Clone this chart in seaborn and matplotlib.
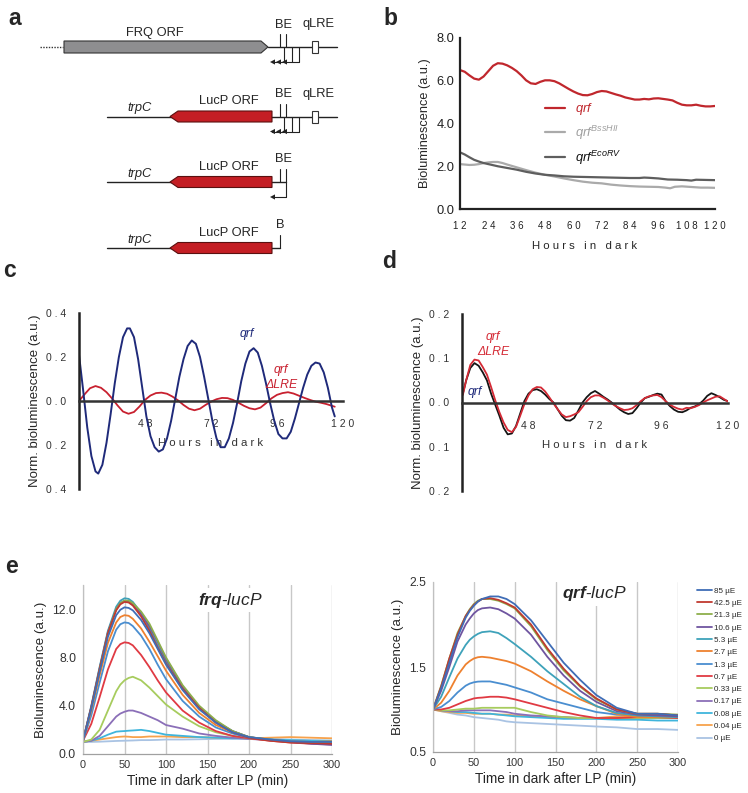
import numpy as np
import pandas as pd
import seaborn as sns
import matplotlib
matplotlib.use("Agg")
import matplotlib.pyplot as plt
from matplotlib.patches import Polygon, Rectangle
from matplotlib.lines import Line2D

# ======================= DATA =======================
# ---- panel a (schematic constructs) ----
orf_labels = ["FRQ ORF", "LucP ORF", "LucP ORF", "LucP ORF"]
promoter_labels = [None, "trpC", "trpC", "trpC"]
site_labels = ["BE", "BE", "BE", "B"]
has_qlre = [True, True, False, False]
n_tss_arrows = [3, 3, 1, 0]

# ---- panel b ----
b_hours_qrf = [12, 14, 16, 18, 20, 22, 24, 26, 28, 30, 32, 34, 36, 38, 40, 42, 44, 46, 48, 50,
               52, 54, 56, 58, 60, 62, 64, 66, 68, 70, 72, 74, 76, 78, 80, 82, 84, 86, 88, 90,
               92, 94, 96, 98, 100, 102, 104, 106, 108, 110, 112, 114, 116, 118, 120]
b_qrf = [6.5, 6.42, 6.25, 6.1, 6.05, 6.2, 6.45, 6.7, 6.82, 6.8, 6.72, 6.6, 6.45, 6.25, 6.02, 5.88,
         5.85, 5.95, 6.02, 6.02, 5.98, 5.88, 5.75, 5.62, 5.5, 5.4, 5.33, 5.32, 5.38, 5.47, 5.52,
         5.5, 5.43, 5.36, 5.3, 5.22, 5.17, 5.12, 5.12, 5.15, 5.13, 5.17, 5.18, 5.15, 5.12, 5.08,
         4.97, 4.88, 4.85, 4.85, 4.88, 4.83, 4.8, 4.8, 4.82]
b_hours_bss = [12, 14, 16, 18, 20, 22, 24, 26, 28, 30, 32, 36, 40, 44, 48, 52, 56, 60, 64, 68,
               72, 76, 80, 84, 88, 92, 96, 99, 101, 103, 106, 110, 114, 117, 120]
b_bss = [2.1, 2.08, 2.06, 2.07, 2.1, 2.15, 2.18, 2.2, 2.2, 2.15, 2.08, 1.95, 1.82, 1.7, 1.6,
         1.52, 1.43, 1.35, 1.28, 1.23, 1.2, 1.14, 1.1, 1.07, 1.05, 1.04, 1.03, 1.0, 0.97, 1.04,
         1.06, 1.03, 1.0, 1.0, 0.99]
b_hours_eco = [12, 14, 16, 18, 20, 22, 24, 28, 32, 36, 40, 44, 48, 52, 56, 60, 64, 68, 72, 76,
               80, 84, 88, 90, 92, 96, 100, 104, 108, 110, 112, 116, 120]
b_eco = [2.65, 2.55, 2.42, 2.3, 2.22, 2.15, 2.1, 2.0, 1.92, 1.84, 1.74, 1.66, 1.6, 1.57, 1.53,
         1.51, 1.5, 1.49, 1.48, 1.47, 1.46, 1.45, 1.45, 1.47, 1.46, 1.43, 1.38, 1.37, 1.35, 1.33,
         1.37, 1.36, 1.35]
b_xticks = [12, 24, 36, 48, 60, 72, 84, 96, 108, 120]
b_yticks = [0, 2, 4, 6, 8]
b_yticklabels = ["0.0", "2.0", "4.0", "6.0", "8.0"]

# ---- panel c ----
c_hours_qrf = [24.0, 25.5, 27.0, 28.5, 30.0, 31.0, 32.5, 34.0, 35.5, 37.0, 38.5, 40.0, 41.5, 42.5,
               44.0, 45.5, 47.0, 48.5, 50.0, 51.5, 53.0, 54.5, 56.0, 57.5, 59.0, 60.5, 62.0, 63.5,
               65.0, 66.5, 68.0, 69.5, 71.0, 72.5, 74.0, 75.5, 77.0, 78.5, 80.0, 81.5, 83.0, 84.5,
               86.0, 87.5, 89.0, 90.5, 92.0, 93.5, 95.0, 96.5, 98.0, 99.5, 101.0, 102.5, 104.0,
               105.5, 107.0, 108.5, 110.0, 111.5, 113.0, 114.5, 116.0, 117.0]
c_qrf = [0.21, 0.05, -0.12, -0.25, -0.32, -0.33, -0.29, -0.19, -0.06, 0.08, 0.20, 0.29, 0.33, 0.33,
         0.29, 0.19, 0.06, -0.07, -0.16, -0.21, -0.23, -0.22, -0.17, -0.09, 0.01, 0.11, 0.19, 0.25,
         0.275, 0.26, 0.20, 0.11, 0.01, -0.09, -0.17, -0.21, -0.21, -0.17, -0.10, -0.01, 0.09, 0.17,
         0.225, 0.24, 0.22, 0.16, 0.08, -0.01, -0.09, -0.15, -0.17, -0.17, -0.14, -0.08, -0.01,
         0.06, 0.12, 0.16, 0.175, 0.17, 0.13, 0.06, -0.03, -0.07]
c_hours_lre = [24, 26, 28, 30, 32, 34, 36, 38, 40, 42, 44, 46, 48, 50, 52, 54, 56, 58, 60, 62, 64,
               66, 68, 70, 72, 74, 76, 78, 80, 82, 84, 86, 88, 90, 92, 94, 96, 98, 100, 102, 104,
               106, 108, 110, 112, 114, 116, 117]
c_lre = [0.0, 0.03, 0.058, 0.068, 0.06, 0.04, 0.012, -0.02, -0.048, -0.058, -0.05, -0.025, 0.005,
         0.025, 0.036, 0.038, 0.033, 0.02, 0.003, -0.018, -0.035, -0.042, -0.035, -0.018, -0.003,
         0.008, 0.014, 0.013, 0.005, -0.008, -0.022, -0.033, -0.038, -0.03, -0.01, 0.012, 0.028,
         0.036, 0.04, 0.034, 0.024, 0.014, 0.005, -0.003, -0.008, -0.014, -0.022, -0.026]
c_yticks = [0.4, 0.2, 0.0, -0.2, -0.4]
c_yticklabels = ["0 . 4", "0 . 2", "0 . 0", "0 . 2", "0 . 4"]
cd_xticks = [48, 72, 96, 120]

# ---- panel d ----
d_hours = [24.3, 25.5, 27, 28.5, 30, 31.5, 33, 34.5, 36, 37.5, 39, 40.5, 42, 43.5, 45, 46.5, 48,
           49.5, 51, 52.5, 54, 55.5, 57, 58.5, 60, 61.5, 63, 64.5, 66, 67.5, 69, 70.5, 72, 73.5,
           75, 76.5, 78, 79.5, 81, 82.5, 84, 85.5, 87, 88.5, 90, 91.5, 93, 94.5, 96, 97.5, 99,
           100.5, 102, 103.5, 105, 106.5, 108, 109.5, 111, 112.5, 114, 115.5, 117, 118.5, 120]
d_qrf = [0.02, 0.05, 0.078, 0.089, 0.083, 0.068, 0.05, 0.02, -0.005, -0.03, -0.057, -0.072, -0.07,
         -0.053, -0.025, 0.003, 0.02, 0.028, 0.03, 0.026, 0.018, 0.008, 0.0, -0.015, -0.03, -0.04,
         -0.041, -0.035, -0.018, 0.0, 0.012, 0.021, 0.026, 0.02, 0.013, 0.007, 0.0, -0.008, -0.016,
         -0.022, -0.026, -0.024, -0.013, 0.0, 0.01, 0.013, 0.017, 0.02, 0.018, 0.003, -0.008,
         -0.016, -0.021, -0.022, -0.018, -0.012, -0.009, -0.004, 0.004, 0.015, 0.021, 0.017,
         0.012, 0.006, 0.003]
d_lre = [0.017, 0.05, 0.085, 0.097, 0.095, 0.08, 0.063, 0.035, 0.005, -0.022, -0.045, -0.062,
         -0.067, -0.055, -0.03, -0.004, 0.016, 0.03, 0.035, 0.034, 0.025, 0.012, -0.002, -0.015,
         -0.027, -0.033, -0.031, -0.027, -0.022, -0.01, 0.003, 0.012, 0.016, 0.016, 0.011, 0.005,
         -0.002, -0.008, -0.013, -0.017, -0.016, -0.013, -0.006, 0.003, 0.01, 0.014, 0.016, 0.017,
         0.012, 0.003, -0.005, -0.01, -0.014, -0.016, -0.012, -0.013, -0.01, -0.006, 0.0, 0.005,
         0.009, 0.013, 0.014, 0.008, 0.002]
d_yticks = [0.2, 0.1, 0.0, -0.1, -0.2]
d_yticklabels = ["0 . 2", "0 . 1", "0 . 0", "0 . 1", "0 . 2"]

# ---- panel e ----
e_minutes = [0, 10, 20, 30, 40, 45, 50, 55, 60, 70, 80, 90, 100, 120, 140, 160, 180, 200, 225, 250, 275, 300]
e_doses = ["85 µE", "42.5 µE", "21.3 µE", "10.6 µE", "5.3 µE", "2.7 µE", "1.3 µE", "0.7 µE",
           "0.33 µE", "0.17 µE", "0.08 µE", "0.04 µE", "0 µE"]
e_colors = ["#3F6DB6", "#C0392F", "#8DAF4B", "#6F55A0", "#3EA2BA", "#EE812F", "#4A8ED0",
            "#E03A43", "#A7CC5E", "#8B6FB8", "#3FB5DC", "#F7A24C", "#A9C3E3"]
e_frq = [
    [1.1, 3.8, 6.8, 9.7, 11.5, 11.95, 12.15, 12.1, 11.9, 11.1, 10.0, 8.7, 7.4, 5.3, 3.7, 2.6, 1.8, 1.4, 1.2, 1.05, 1.0, 1.0],
    [1.1, 3.9, 7.0, 10.0, 11.9, 12.4, 12.6, 12.55, 12.3, 11.4, 10.2, 8.8, 7.5, 5.4, 3.8, 2.6, 1.8, 1.35, 1.1, 0.95, 0.9, 0.85],
    [1.1, 3.8, 7.0, 10.0, 12.0, 12.5, 12.7, 12.7, 12.5, 11.8, 10.8, 9.4, 8.0, 5.7, 4.0, 2.8, 1.9, 1.4, 1.15, 1.0, 0.95, 0.9],
    [1.1, 3.9, 7.1, 10.1, 12.0, 12.5, 12.7, 12.65, 12.4, 11.6, 10.6, 9.3, 7.9, 5.6, 3.9, 2.7, 1.9, 1.4, 1.15, 1.0, 0.85, 0.75],
    [1.1, 4.0, 7.2, 10.2, 12.2, 12.7, 12.9, 12.85, 12.6, 11.7, 10.4, 9.0, 7.7, 5.5, 3.9, 2.7, 1.9, 1.4, 1.2, 1.0, 0.95, 0.9],
    [1.1, 3.6, 6.5, 9.2, 10.9, 11.35, 11.5, 11.45, 11.2, 10.4, 9.3, 8.1, 6.9, 4.9, 3.4, 2.4, 1.8, 1.4, 1.2, 1.0, 1.0, 1.05],
    [1.1, 3.2, 5.9, 8.5, 10.3, 10.75, 10.9, 10.85, 10.6, 9.8, 8.7, 7.4, 6.2, 4.4, 3.1, 2.2, 1.7, 1.35, 1.2, 1.05, 1.0, 1.0],
    [1.1, 2.5, 4.7, 7.0, 8.7, 9.1, 9.25, 9.2, 9.0, 8.2, 7.2, 6.1, 5.1, 3.6, 2.6, 1.9, 1.5, 1.3, 1.1, 0.95, 0.85, 0.8],
    [1.0, 1.2, 2.0, 3.6, 5.2, 5.75, 6.1, 6.3, 6.4, 6.1, 5.5, 4.8, 4.1, 3.1, 2.3, 1.8, 1.5, 1.3, 1.15, 1.05, 1.0, 1.0],
    [1.0, 1.1, 1.5, 2.3, 3.1, 3.35, 3.5, 3.6, 3.6, 3.4, 3.1, 2.8, 2.4, 2.1, 1.7, 1.5, 1.35, 1.25, 1.15, 1.05, 1.0, 0.95],
    [1.0, 1.1, 1.3, 1.6, 1.85, 1.88, 1.9, 1.93, 1.95, 2.0, 1.9, 1.75, 1.6, 1.5, 1.4, 1.35, 1.3, 1.3, 1.2, 1.15, 1.1, 1.1],
    [1.0, 1.1, 1.2, 1.3, 1.4, 1.43, 1.45, 1.43, 1.4, 1.4, 1.45, 1.45, 1.45, 1.4, 1.4, 1.35, 1.35, 1.3, 1.35, 1.4, 1.35, 1.3],
    [1.0, 1.0, 1.02, 1.05, 1.08, 1.09, 1.1, 1.11, 1.12, 1.15, 1.15, 1.17, 1.2, 1.2, 1.22, 1.25, 1.25, 1.25, 1.25, 1.2, 1.15, 1.1],
]
e_qrf = [
    [1.0, 1.25, 1.55, 1.85, 2.08, 2.16, 2.22, 2.27, 2.3, 2.33, 2.33, 2.3, 2.24, 2.05, 1.8, 1.55, 1.35, 1.17, 1.02, 0.95, 0.95, 0.93],
    [1.0, 1.27, 1.6, 1.88, 2.1, 2.17, 2.23, 2.27, 2.3, 2.31, 2.29, 2.25, 2.2, 2.0, 1.72, 1.48, 1.28, 1.13, 1.0, 0.95, 0.95, 0.93],
    [1.0, 1.28, 1.6, 1.9, 2.1, 2.18, 2.24, 2.28, 2.3, 2.3, 2.28, 2.24, 2.19, 1.98, 1.7, 1.46, 1.27, 1.12, 1.0, 0.95, 0.95, 0.94],
    [1.0, 1.22, 1.5, 1.8, 2.0, 2.07, 2.13, 2.17, 2.19, 2.2, 2.18, 2.13, 2.07, 1.88, 1.62, 1.4, 1.22, 1.09, 0.98, 0.94, 0.93, 0.92],
    [1.0, 1.15, 1.38, 1.6, 1.76, 1.82, 1.86, 1.89, 1.91, 1.92, 1.9, 1.84, 1.77, 1.62, 1.45, 1.3, 1.15, 1.04, 0.96, 0.93, 0.92, 0.91],
    [1.0, 1.08, 1.22, 1.4, 1.53, 1.57, 1.6, 1.615, 1.62, 1.61, 1.59, 1.57, 1.54, 1.45, 1.33, 1.22, 1.12, 1.04, 0.95, 0.91, 0.91, 0.91],
    [1.0, 1.03, 1.1, 1.2, 1.28, 1.305, 1.32, 1.328, 1.33, 1.33, 1.31, 1.29, 1.26, 1.2, 1.12, 1.07, 1.02, 0.97, 0.94, 0.93, 0.92, 0.92],
    [1.0, 1.0, 1.02, 1.06, 1.1, 1.115, 1.13, 1.137, 1.14, 1.15, 1.15, 1.14, 1.12, 1.07, 1.02, 0.97, 0.93, 0.9, 0.9, 0.91, 0.91, 0.9],
    [1.0, 0.99, 0.99, 1.0, 1.01, 1.01, 1.01, 1.015, 1.02, 1.02, 1.02, 1.02, 1.02, 0.97, 0.93, 0.91, 0.9, 0.9, 0.9, 0.9, 0.9, 0.9],
    [1.0, 0.99, 0.98, 0.98, 0.99, 0.99, 0.99, 0.99, 0.99, 0.99, 0.98, 0.97, 0.95, 0.93, 0.92, 0.91, 0.9, 0.9, 0.9, 0.9, 0.9, 0.9],
    [1.0, 0.99, 0.98, 0.97, 0.97, 0.965, 0.96, 0.955, 0.95, 0.95, 0.94, 0.93, 0.92, 0.91, 0.9, 0.89, 0.89, 0.89, 0.88, 0.88, 0.87, 0.87],
    [1.0, 0.98, 0.97, 0.96, 0.96, 0.955, 0.95, 0.95, 0.95, 0.95, 0.94, 0.94, 0.93, 0.92, 0.91, 0.91, 0.9, 0.9, 0.92, 0.92, 0.92, 0.92],
    [1.0, 0.98, 0.96, 0.94, 0.93, 0.92, 0.91, 0.905, 0.9, 0.89, 0.88, 0.86, 0.85, 0.84, 0.83, 0.82, 0.81, 0.8, 0.79, 0.77, 0.77, 0.76],
]
e_xticks = [0, 50, 100, 150, 200, 250, 300]
e_frq_yticks = [0, 4, 8, 12]
e_frq_yticklabels = ["0.0", "4.0", "8.0", "12.0"]
e_frq_yminor = [2, 6, 10, 14]
e_qrf_yticks = [0.5, 1.5, 2.5]
e_qrf_yticklabels = ["0.5", "1.5", "2.5"]
e_qrf_yminor = [0.7, 0.9, 1.1, 1.3, 1.7, 1.9, 2.1, 2.3]

# ======================= STYLE =======================
sns.set_theme(context="paper", style="white")
plt.rcParams["font.family"] = ["Liberation Sans", "DejaVu Sans"]
plt.rcParams["mathtext.fontset"] = "custom"
plt.rcParams["mathtext.rm"] = "Liberation Sans"
plt.rcParams["mathtext.it"] = "Liberation Sans:italic"
plt.rcParams["mathtext.bf"] = "Liberation Sans:bold"
try:
    plt.rcParams["mathtext.bfit"] = "Liberation Sans:italic:bold"
except Exception:
    pass

W, H = 748, 793
fig = plt.figure(figsize=(W / 100, H / 100), dpi=100)


def add_ax(x0, y0, x1, y1):
    return fig.add_axes([x0 / W, 1 - y1 / H, (x1 - x0) / W, (y1 - y0) / H])


def spaced(s):
    return " ".join(s)


hours_label = "   ".join(spaced(w) for w in ["Hours", "in", "dark"])
DARK = "#222222"

# panel letters
for letter, (px, py) in zip("abcde", [(8, 25), (383, 25), (3, 277), (382, 268), (5, 573)]):
    fig.text(px / W, 1 - py / H, letter, fontsize=16.5, fontweight="bold", ha="left", va="baseline")

# ======================= PANEL A =======================
axa = add_ax(0, 0, 374, 272)
axa.set_xlim(0, 374)
axa.set_ylim(272, 0)
axa.axis("off")
row_y = [47, 116.5, 182, 248]
line_end = [337, 337, 286.5, 280]
for i, y in enumerate(row_y):
    if i == 0:
        axa.plot([40, 63], [y, y], ls=(0, (1, 1)), color="#333333", lw=1)
        axa.add_patch(Polygon([(64, y - 6), (261, y - 6), (268, y), (261, y + 6), (64, y + 6)],
                              closed=True, fc="#8E8E90", ec="#333333", lw=0.8, zorder=3))
        axa.plot([268, line_end[i]], [y, y], color=DARK, lw=1)
        axa.text(155, y - 14, orf_labels[i], ha="center", va="center", fontsize=9.3)
    else:
        axa.plot([107, line_end[i]], [y, y], color=DARK, lw=1)
        axa.add_patch(Polygon([(170, y), (178, y - 5.5), (272, y - 5.5), (272, y + 5.5), (178, y + 5.5)],
                              closed=True, fc="#C41E24", ec="#5A1010", lw=0.8, zorder=3))
        axa.text(140, y - 8.5, promoter_labels[i], ha="center", va="center", fontsize=9.3, style="italic")
        axa.text(229, y - 15.5, orf_labels[i], ha="center", va="center", fontsize=9.3)
    site = site_labels[i]
    xs = [280] if site == "B" else [280, 286.5]
    for xv in xs:
        axa.plot([xv, xv], [y - 13, y], color=DARK, lw=0.8)
    axa.text(280 if site == "B" else 283.5, y - 22.5, site, ha="center", va="center", fontsize=9.3)
    if has_qlre[i]:
        axa.add_patch(Rectangle((312, y - 6), 6, 12, fc="white", ec="#333333", lw=0.8, zorder=3))
        axa.text(319, y - 22.5, "qLRE", ha="center", va="center", fontsize=9.3)
    ya = y + 15
    if n_tss_arrows[i] == 3:
        for xv in [284, 292, 299]:
            axa.plot([xv, xv], [y, ya], color=DARK, lw=0.8)
        axa.plot([299, 272], [ya, ya], color=DARK, lw=0.8)
        for tip in [270, 276, 282]:
            axa.add_patch(Polygon([(tip, ya), (tip + 5, ya - 2.6), (tip + 5, ya + 2.6)], fc=DARK, ec="none"))
    elif n_tss_arrows[i] == 1:
        axa.plot([286.5, 286.5], [y, ya], color=DARK, lw=0.8)
        axa.plot([286.5, 272], [ya, ya], color=DARK, lw=0.8)
        axa.add_patch(Polygon([(270, ya), (275, ya - 2.6), (275, ya + 2.6)], fc=DARK, ec="none"))

# ======================= PANEL B =======================
axb = add_ax(460, 38, 715, 209)
b_colors = ["#C0272D", "#AAAAAA", "#5E5E5E"]
sns.lineplot(x=b_hours_bss, y=b_bss, ax=axb, color=b_colors[1], lw=1.6, estimator=None)
sns.lineplot(x=b_hours_eco, y=b_eco, ax=axb, color=b_colors[2], lw=1.6, estimator=None)
sns.lineplot(x=b_hours_qrf, y=b_qrf, ax=axb, color=b_colors[0], lw=1.6, estimator=None)
axb.set_xlim(12, 120)
axb.set_ylim(0, 8)
sns.despine(ax=axb)
for s in ["left", "bottom"]:
    axb.spines[s].set_linewidth(1.6)
    axb.spines[s].set_color(DARK)
axb.set_xticks(b_xticks)
axb.set_xticklabels([spaced(str(v)) for v in b_xticks], fontsize=7, color="#222222")
axb.set_yticks(b_yticks)
axb.set_yticklabels(b_yticklabels, fontsize=9.3, color="#222222")
axb.tick_params(axis="x", direction="out", length=3.5, width=1.3, color=DARK, pad=5)
axb.tick_params(axis="y", direction="out", length=3, width=1.3, color=DARK, pad=1)
axb.set_xlabel(hours_label, fontsize=8.2)
axb.xaxis.set_label_coords(0.49, -0.19)
axb.set_ylabel("Bioluminescence (a.u.)", fontsize=9.2, labelpad=4)
handles = [Line2D([], [], color=c, lw=1.6) for c in b_colors]
b_labels = [r"$\mathit{qrf}$", r"$\mathit{qrf}^{\mathit{BssHII}}$", r"$\mathit{qrf}^{\mathit{EcoRV}}$"]
leg = axb.legend(handles, b_labels, loc="upper left", bbox_to_anchor=(0.335, 0.63), frameon=False,
                 fontsize=9.3, handlelength=1.5, handletextpad=0.8, labelspacing=0.5,
                 borderpad=0, borderaxespad=0)
for t, c in zip(leg.get_texts(), ["#C0272D", "#A0A0A0", "#111111"]):
    t.set_color(c)


# ======================= PANEL C / D helpers =======================
def style_osc(ax, yticks, yticklabels, ylim):
    ax.set_xlim(24, 120)
    ax.set_ylim(*ylim)
    ax.spines["top"].set_visible(False)
    ax.spines["right"].set_visible(False)
    ax.spines["bottom"].set_position(("data", 0))
    ax.spines["left"].set_linewidth(1.8)
    ax.spines["left"].set_color(DARK)
    ax.spines["bottom"].set_linewidth(1.8)
    ax.spines["bottom"].set_color("#333333")
    ax.set_xticks(cd_xticks)
    ax.set_xticklabels([spaced(str(v)) for v in cd_xticks], fontsize=7.5, color="#333333")
    ax.set_yticks(yticks)
    ax.set_yticklabels(yticklabels, fontsize=7.5, color="#333333")
    ax.tick_params(axis="x", direction="out", length=4, width=1.3, color="#333333", pad=9)
    ax.tick_params(axis="y", direction="out", length=4, width=1.3, color=DARK, pad=5)
    ax.set_xlabel(hours_label, fontsize=8.2, color="#333333")
    ax.xaxis.set_label_coords(0.5, 0.29)
    ax.set_ylabel("Norm. bioluminescence (a.u.)", fontsize=9.5, labelpad=4)


# ======================= PANEL C =======================
axc = add_ax(79, 313, 343, 489)
sns.lineplot(x=c_hours_lre, y=c_lre, ax=axc, color="#C8202F", lw=1.3, estimator=None)
sns.lineplot(x=c_hours_qrf, y=c_qrf, ax=axc, color="#1F2A7A", lw=1.4, estimator=None)
style_osc(axc, c_yticks, c_yticklabels, (-0.4, 0.4))
axc.text(85, 0.305, "qrf", color="#1F2A7A", style="italic", fontsize=8.8, ha="center", va="center")
axc.text(97.5, 0.141, "qrf", color="#C8202F", style="italic", fontsize=8.8, ha="center", va="center")
axc.text(97.5, 0.073, "ΔLRE", color="#C8202F", style="italic", fontsize=8.8, ha="center", va="center")

# ======================= PANEL D =======================
axd = add_ax(462, 314, 728, 491)
sns.lineplot(x=d_hours, y=d_qrf, ax=axd, color="#151515", lw=1.3, estimator=None)
sns.lineplot(x=d_hours, y=d_lre, ax=axd, color="#D42A35", lw=1.3, estimator=None)
style_osc(axd, d_yticks, d_yticklabels, (-0.2, 0.2))
axd.text(35.2, 0.149, "qrf", color="#D42A35", style="italic", fontsize=8.8, ha="center", va="center")
axd.text(35.2, 0.113, "ΔLRE", color="#D42A35", style="italic", fontsize=8.8, ha="center", va="center")
axd.text(28.7, 0.023, "qrf", color="#1F2A7A", style="italic", fontsize=8.8, ha="center", va="center")


# ======================= PANEL E =======================
def long_df(values):
    rows = []
    for dose, vals in zip(e_doses, values):
        for t, v in zip(e_minutes, vals):
            rows.append((dose, t, v))
    return pd.DataFrame(rows, columns=["dose", "minute", "value"])


def style_e(ax, yticks, yticklabels, yminor, ylim, title_main, title_rest, title_pos):
    ax.set_xlim(0, 300)
    ax.set_ylim(*ylim)
    ax.set_xticks(e_xticks)
    ax.set_xticklabels([str(v) for v in e_xticks], fontsize=7.8, color="#333333")
    ax.set_yticks(yticks)
    ax.set_yticklabels(yticklabels, fontsize=8.8, color="#333333")
    ax.set_yticks(yminor, minor=True)
    ax.tick_params(axis="x", length=0, pad=4)
    ax.tick_params(axis="y", which="both", direction="out", length=3, width=0.8, color="#B0B0B0", pad=2)
    ax.grid(axis="x", color="#C8C8C8", lw=1.0)
    ax.grid(axis="y", visible=False)
    ax.set_axisbelow(True)
    ax.spines["top"].set_visible(False)
    ax.spines["right"].set_visible(False)
    ax.spines["left"].set_color("#C0C0C0")
    ax.spines["left"].set_linewidth(0.9)
    ax.spines["bottom"].set_color("#A0A0A0")
    ax.spines["bottom"].set_linewidth(0.9)
    ax.set_xlabel("Time in dark after LP (min)", fontsize=9.8, labelpad=3)
    ax.set_ylabel("Bioluminescence (a.u.)", fontsize=9.6, labelpad=4)
    ax.text(title_pos[0], title_pos[1], r"$\mathbfit{" + title_main + "}$" + r"-$\mathit{" + title_rest + "}$",
            transform=ax.transAxes, ha="center", va="center", fontsize=12.5,
            bbox=dict(fc="white", ec="none", pad=2), zorder=5)


pal = dict(zip(e_doses, e_colors))
axe1 = add_ax(83, 585, 332, 754)
sns.lineplot(data=long_df(e_frq), x="minute", y="value", hue="dose", hue_order=e_doses[::-1],
             palette=pal, ax=axe1, legend=False, lw=1.3, estimator=None)
style_e(axe1, e_frq_yticks, e_frq_yticklabels, e_frq_yminor, (0, 14), "frq", "lucP", (0.59, 0.91))

axe2 = add_ax(433, 582, 678, 752)
sns.lineplot(data=long_df(e_qrf), x="minute", y="value", hue="dose", hue_order=e_doses[::-1],
             palette=pal, ax=axe2, legend=False, lw=1.3, estimator=None)
style_e(axe2, e_qrf_yticks, e_qrf_yticklabels, e_qrf_yminor, (0.5, 2.5), "qrf", "lucP", (0.66, 0.93))

e_handles = [Line2D([], [], color=c, lw=1.3) for c in e_colors]
fig.legend(e_handles, e_doses, loc="upper left", bbox_to_anchor=(697 / W, 1 - 587 / H),
           bbox_transform=fig.transFigure, frameon=False, fontsize=5.8, handlelength=1.9,
           handletextpad=0.15, labelspacing=0.58, borderpad=0, borderaxespad=0)

fig.savefig("out.png", dpi=100)
